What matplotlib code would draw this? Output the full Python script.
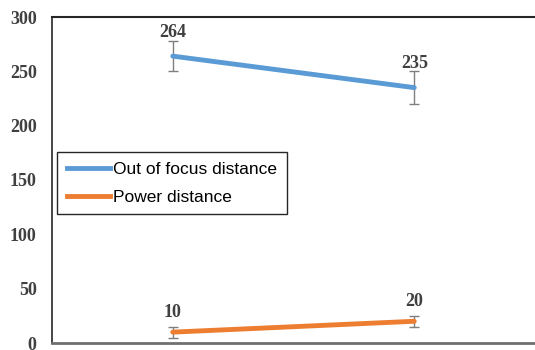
import matplotlib.pyplot as plt

# group positions and measured distances
groups = [1, 2]
focus_dist = [264, 235]
focus_err = [14, 15]
power_dist = [10, 20]
power_err = [5, 5]

yticks = [0, 50, 100, 150, 200, 250, 300]

blue = '#5B9BD5'
orange = '#ED7D31'
err_grey = '#7f7f7f'
label_font = dict(family='Liberation Serif', weight='bold', size=13, color='#404040')

fig = plt.figure(figsize=(5.35, 3.5), dpi=100)
ax = fig.add_axes([52 / 535, 7 / 350, 483 / 535, 326 / 350])

ax.errorbar(groups, focus_dist, yerr=focus_err, color=blue, lw=3.5,
            ecolor=err_grey, elinewidth=1, capsize=3.5, capthick=1,
            label='Out of focus distance', solid_capstyle='round')
ax.errorbar(groups, power_dist, yerr=power_err, color=orange, lw=3.5,
            ecolor=err_grey, elinewidth=1, capsize=3.5, capthick=1,
            label='Power distance', solid_capstyle='round')

# value labels above the error bars
for x, v, e in zip(groups, focus_dist, focus_err):
    ax.text(x, v + e + 3.5, str(v), ha='center', va='baseline', **label_font)
for x, v, e in zip(groups, power_dist, power_err):
    ax.text(x, v + e + 9, str(v), ha='center', va='baseline', **label_font)

ax.set_xlim(0.5, 2.5)
ax.set_ylim(0, 300)
ax.set_xticks([])
ax.set_yticks(yticks)
ax.set_yticklabels([str(t) for t in yticks], fontdict=label_font)
ax.tick_params(axis='y', length=0, pad=11)

ax.spines['right'].set_visible(False)
ax.spines['top'].set_color('#262626')
ax.spines['top'].set_linewidth(1.5)
ax.spines['left'].set_color('#262626')
ax.spines['left'].set_linewidth(1.2)
ax.spines['bottom'].set_color('#707070')
ax.spines['bottom'].set_linewidth(2)

labels = ['Out of focus distance', 'Power distance']
handles = [plt.Line2D([], [], color=c, lw=3.5) for c in (blue, orange)]
leg = ax.legend(handles, labels, loc='upper left', bbox_to_anchor=(5 / 483, 1 - 135 / 326),
                prop={'family': 'Liberation Sans', 'size': 12.5},
                frameon=True, fancybox=False, framealpha=1, borderpad=0.55,
                handlelength=2.5, handletextpad=0.2, labelspacing=0.75,
                borderaxespad=0)
leg.get_frame().set_edgecolor('#262626')
leg.get_frame().set_linewidth(1)

fig.savefig('out.png', dpi=100)
